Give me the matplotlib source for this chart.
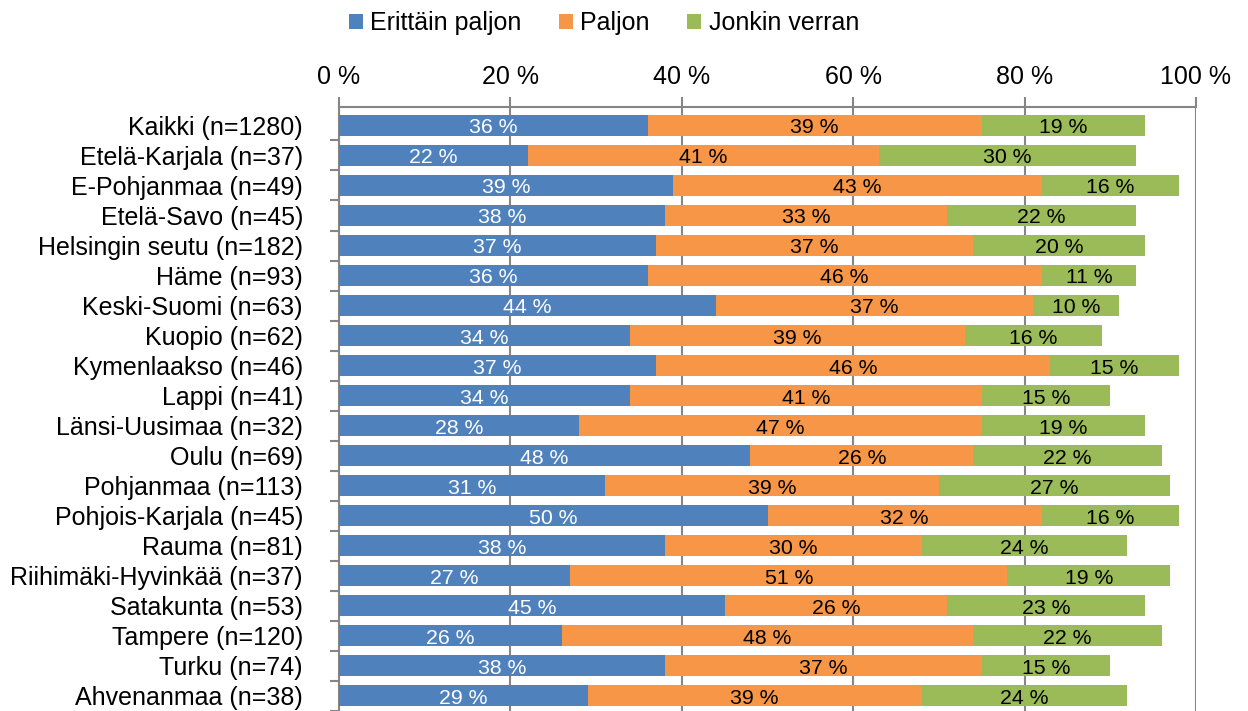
import numpy as np
import matplotlib
matplotlib.use("Agg")
import matplotlib.pyplot as plt
from matplotlib.patches import Patch

plt.rcParams['font.family'] = ['Liberation Sans', 'DejaVu Sans']

categories = ["Kaikki (n=1280)", "Etelä-Karjala (n=37)", "E-Pohjanmaa (n=49)",
              "Etelä-Savo (n=45)", "Helsingin seutu (n=182)", "Häme (n=93)",
              "Keski-Suomi (n=63)", "Kuopio (n=62)", "Kymenlaakso (n=46)",
              "Lappi (n=41)", "Länsi-Uusimaa (n=32)", "Oulu (n=69)",
              "Pohjanmaa (n=113)", "Pohjois-Karjala (n=45)", "Rauma (n=81)",
              "Riihimäki-Hyvinkää (n=37)", "Satakunta (n=53)", "Tampere (n=120)",
              "Turku (n=74)", "Ahvenanmaa (n=38)"]
erittain = [36, 22, 39, 38, 37, 36, 44, 34, 37, 34, 28, 48, 31, 50, 38, 27, 45, 26, 38, 29]
paljon = [39, 41, 43, 33, 37, 46, 37, 39, 46, 41, 47, 26, 39, 32, 30, 51, 26, 48, 37, 39]
jonkin = [19, 30, 16, 22, 20, 11, 10, 16, 15, 15, 19, 22, 27, 16, 24, 19, 23, 22, 15, 24]
series_names = ["Erittäin paljon", "Paljon", "Jonkin verran"]
xticks = [0, 20, 40, 60, 80, 100]

colours = ["#4F81BD", "#F79646", "#9BBB59"]
text_colours = ["white", "black", "black"]
grey = "#868686"

fig = plt.figure(figsize=(12.48, 7.11), dpi=100)
ax = fig.add_axes([339 / 1248, 0, (1196 - 339) / 1248, 1 - 107 / 711])

y = np.arange(len(categories))
left = np.zeros(len(categories))
for vals, colour, tcol in zip([erittain, paljon, jonkin], colours, text_colours):
    vals = np.array(vals, dtype=float)
    ax.barh(y, vals, left=left, height=0.7, color=colour, zorder=3)
    for yi, l, v in zip(y, left, vals):
        ax.text(l + v / 2, yi + 0.08, f"{int(v)} %", ha="center", va="center",
                color=tcol, fontsize=15.3, zorder=4)
    left += vals

ax.set_xlim(0, 100)
ax.set_ylim(19.39, -0.613)
ax.xaxis.tick_top()
ax.set_xticks(xticks)
ax.set_xticklabels([f"{t} %" for t in xticks], fontsize=18)
ax.tick_params(axis="x", which="major", length=7.2, width=1.5, color=grey, pad=6)
ax.grid(axis="x", color=grey, linewidth=1.5, zorder=0)

ax.set_yticks(y)
ax.set_yticklabels(categories, fontsize=18)
ax.set_yticks(np.arange(len(categories)) + 0.5, minor=True)
ax.tick_params(axis="y", which="major", length=0, pad=26)
ax.tick_params(axis="y", which="minor", length=6.5, width=1.5, color=grey)

for side in ["right", "bottom"]:
    ax.spines[side].set_visible(False)
for side in ["top", "left"]:
    ax.spines[side].set_color(grey)
    ax.spines[side].set_linewidth(1.5)

handles = [Patch(facecolor=c, edgecolor="none") for c in colours]
fig.legend(handles, series_names, loc="center", bbox_to_anchor=(604 / 1248, 1 - 23 / 711),
           ncol=3, frameon=False, fontsize=18, handlelength=0.55, handleheight=0.55,
           handletextpad=0.3, columnspacing=1.5, borderpad=0)

fig.savefig("out.png", dpi=100)
